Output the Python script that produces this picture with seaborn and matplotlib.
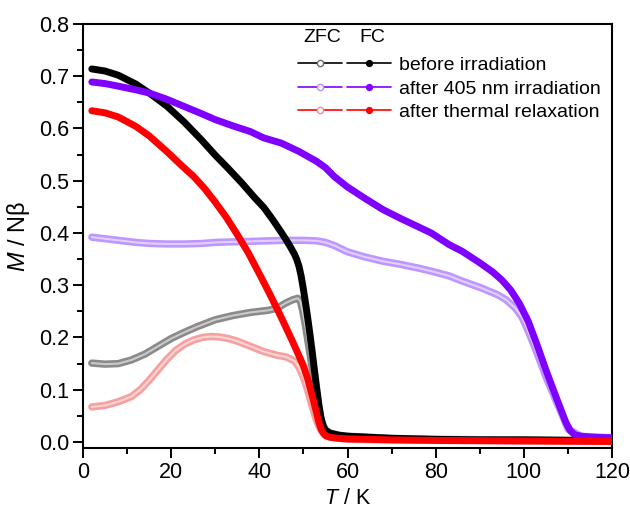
import matplotlib
matplotlib.use("Agg")
import matplotlib.pyplot as plt
import pandas as pd
import seaborn as sns
from matplotlib.lines import Line2D
from matplotlib.legend_handler import HandlerTuple
from matplotlib.ticker import MultipleLocator, FormatStrFormatter

# Data (T in K, M in N beta)
before_fc_T = [2, 5, 8, 12, 15, 19, 23, 27, 30, 33, 36, 39, 41, 43, 45, 46, 47, 48, 48.5, 49,
               49.5, 50, 50.5, 51, 51.5, 52, 52.5, 53, 53.5, 54, 54.5, 55, 56, 58, 60, 70, 80,
               90, 100, 110, 120]
before_fc_M = [0.714, 0.710, 0.702, 0.685, 0.668, 0.643, 0.612, 0.577, 0.549, 0.523, 0.496, 0.467,
               0.449, 0.426, 0.401, 0.388, 0.374, 0.359, 0.349, 0.336, 0.317, 0.292, 0.265, 0.236,
               0.205, 0.172, 0.138, 0.104, 0.072, 0.046, 0.030, 0.022, 0.017, 0.013, 0.011, 0.007,
               0.005, 0.004, 0.004, 0.003, 0.003]

before_zfc_T = [2, 5, 8, 11, 14, 17, 20, 23, 26, 30, 34, 38, 42, 44, 46, 47.5, 48.7, 49.3, 49.8,
                50.3, 50.8, 51.3, 51.9, 52.5, 53, 53.6, 54.1, 54.6, 55.2, 56, 58, 60, 70, 80, 100,
                120]
before_zfc_M = [0.151, 0.149, 0.150, 0.157, 0.168, 0.183, 0.198, 0.210, 0.221, 0.234, 0.242, 0.248,
                0.252, 0.256, 0.266, 0.272, 0.275, 0.270, 0.252, 0.230, 0.205, 0.178, 0.146, 0.113,
                0.085, 0.058, 0.040, 0.029, 0.022, 0.017, 0.013, 0.011, 0.007, 0.005, 0.004, 0.003]

irr_fc_T = [2, 5, 8, 12, 15, 19, 23, 27, 30, 34, 38, 41, 45, 49, 53, 55, 57, 60, 64, 68, 72, 76,
            79, 83, 86, 90, 93, 95, 97, 99, 101, 103, 105, 107, 108.5, 109.5, 110.5, 111.5, 113,
            116, 120]
irr_fc_M = [0.689, 0.686, 0.681, 0.674, 0.668, 0.656, 0.642, 0.628, 0.617, 0.605, 0.594, 0.582,
            0.572, 0.556, 0.537, 0.525, 0.508, 0.488, 0.466, 0.445, 0.428, 0.412, 0.400, 0.378,
            0.365, 0.343, 0.325, 0.310, 0.291, 0.265, 0.231, 0.186, 0.138, 0.093, 0.060, 0.038,
            0.022, 0.014, 0.011, 0.009, 0.008]

irr_zfc_T = [2, 5, 8, 12, 15, 19, 23, 27, 30, 34, 38, 42, 46, 50, 53, 55, 57, 60, 64, 68, 72, 76,
             79, 83, 86, 90, 94, 96, 98, 99.5, 100.5, 101.5, 103, 105, 107, 108.5, 110, 113, 120]
irr_zfc_M = [0.392, 0.389, 0.386, 0.382, 0.380, 0.379, 0.379, 0.380, 0.382, 0.383, 0.384, 0.385,
             0.386, 0.386, 0.385, 0.382, 0.376, 0.364, 0.354, 0.346, 0.340, 0.333, 0.327, 0.318,
             0.308, 0.296, 0.282, 0.272, 0.257, 0.240, 0.222, 0.202, 0.170, 0.125, 0.085, 0.056,
             0.025, 0.011, 0.008]

relax_fc_T = [2, 5, 8, 12, 15, 19, 22.5, 25, 27.5, 30, 32.5, 35, 37.5, 40, 42.5, 45, 47.5, 50, 51,
              52, 53, 53.5, 54, 54.5, 55, 56, 58, 60, 70, 80, 100, 120]
relax_fc_M = [0.634, 0.630, 0.622, 0.604, 0.586, 0.556, 0.528, 0.509, 0.486, 0.459, 0.430, 0.397,
              0.362, 0.322, 0.281, 0.238, 0.193, 0.146, 0.120, 0.088, 0.055, 0.038, 0.025, 0.017,
              0.012, 0.009, 0.007, 0.006, 0.004, 0.003, 0.002, 0.001]

relax_zfc_T = [2, 5, 8, 11, 13, 15, 17, 19, 21, 23, 25, 27, 29, 31, 33, 35, 38, 41, 44, 46, 48,
               49, 50, 51, 52, 53, 54, 55, 57, 60, 80, 120]
relax_zfc_M = [0.067, 0.070, 0.077, 0.087, 0.100, 0.118, 0.138, 0.158, 0.175, 0.187, 0.195, 0.200,
               0.202, 0.201, 0.198, 0.193, 0.183, 0.173, 0.166, 0.163, 0.155, 0.143, 0.124, 0.098,
               0.068, 0.040, 0.022, 0.014, 0.008, 0.005, 0.003, 0.001]

labels = ["before irradiation", "after 405 nm irradiation", "after thermal relaxation"]
fc_colors = ["#000000", "#7f00ff", "#ff0000"]
zfc_colors = ["#8a8a8a", "#bd97ff", "#f6a0a0"]
zfc_edges = ["#6a6a6a", "#b68cff", "#f58c8c"]

sns.set_style("ticks")
plt.rcParams["font.family"] = ["Liberation Sans", "DejaVu Sans"]
plt.rcParams["mathtext.fontset"] = "custom"
plt.rcParams["mathtext.it"] = "Liberation Sans:italic"
plt.rcParams["mathtext.rm"] = "Liberation Sans"
plt.rcParams["text.color"] = "black"
plt.rcParams["axes.labelcolor"] = "black"

fig = plt.figure(figsize=(6.3, 5.16), dpi=100)
ax = fig.add_axes([83 / 630, 1 - 448 / 516, 529 / 630, 424 / 516])

zfc_sets = [(before_zfc_T, before_zfc_M), (irr_zfc_T, irr_zfc_M), (relax_zfc_T, relax_zfc_M)]
fc_sets = [(before_fc_T, before_fc_M), (irr_fc_T, irr_fc_M), (relax_fc_T, relax_fc_M)]

# ZFC curves first (chains of open circles -> light band with pale core)
for (t, m), c in zip(zfc_sets, zfc_colors):
    d = pd.DataFrame({"T": t, "M": m})
    sns.lineplot(data=d, x="T", y="M", ax=ax, color=c, lw=5.3, zorder=2)
    sns.lineplot(data=d, x="T", y="M", ax=ax, color="white", lw=1.5, alpha=0.55, zorder=2)

# FC curves on top
for (t, m), c in zip(fc_sets, fc_colors):
    d = pd.DataFrame({"T": t, "M": m})
    sns.lineplot(data=d, x="T", y="M", ax=ax, color=c, lw=5, zorder=3)

ax.set_xlim(0, 120)
ax.set_ylim(-0.0115, 0.8)
ax.xaxis.set_major_locator(MultipleLocator(20))
ax.xaxis.set_minor_locator(MultipleLocator(10))
ax.yaxis.set_major_locator(MultipleLocator(0.1))
ax.yaxis.set_minor_locator(MultipleLocator(0.05))
ax.yaxis.set_major_formatter(FormatStrFormatter("%.1f"))
ax.tick_params(which="major", direction="out", length=7, width=1.4, labelsize=15.5, pad=3,
               color="black", labelcolor="black")
ax.tick_params(which="minor", direction="out", length=4, width=1.4, color="black")
for s in ax.spines.values():
    s.set_visible(True)
    s.set_linewidth(1.5)
    s.set_color("black")

ax.set_xlabel("$T$ / K", fontsize=15.5, labelpad=4)
ax.set_ylabel("$M$ / N\u03b2", fontsize=17, labelpad=5)

# legend: ZFC and FC handles side by side
handles = []
for fc, ze in zip(fc_colors, zfc_edges):
    h_z = Line2D([], [], color=fc, lw=1.2, marker="o", ms=4.5, mfc="white", mec=ze, mew=1)
    h_f = Line2D([], [], color=fc, lw=1.2, marker="o", ms=4.2, mfc=fc, mec=fc)
    handles.append((h_z, h_f))
ax.legend(handles, labels, handler_map={tuple: HandlerTuple(ndivide=None, pad=0.25)},
          loc="upper left", bbox_to_anchor=(0.4063, 0.923), frameon=False, fontsize=14,
          handlelength=4.8, handletextpad=0.4, labelspacing=0.30, borderaxespad=0,
          borderpad=0, numpoints=1)
ax.text((322 - 83) / 529, (448 - 37) / 424, "ZFC", transform=ax.transAxes, fontsize=14,
        ha="center", va="center")
ax.text((372 - 83) / 529, (448 - 37) / 424, "FC", transform=ax.transAxes, fontsize=14,
        ha="center", va="center")

fig.savefig("out.png", dpi=100)
